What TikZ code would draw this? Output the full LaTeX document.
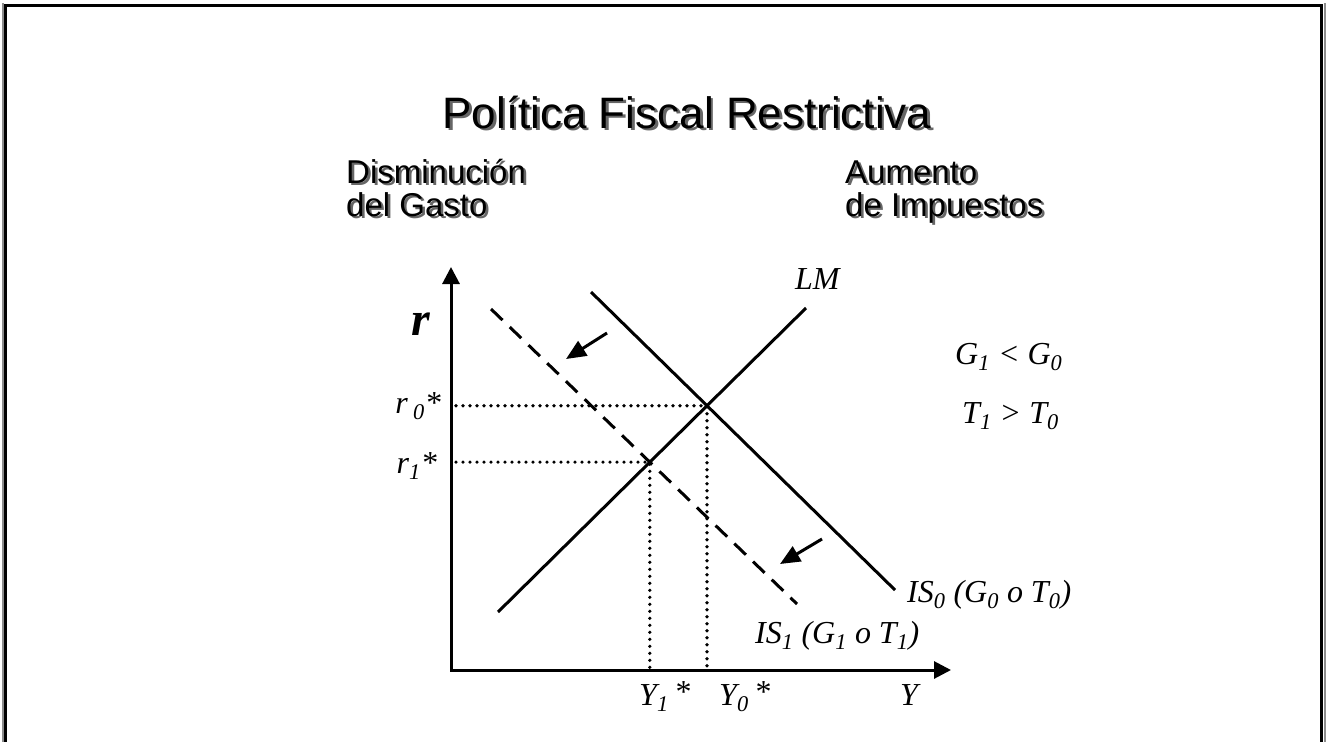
\documentclass[tikz,border=0pt]{standalone}
\usepackage{fontspec}
\setmainfont{Liberation Serif}
\setsansfont{Liberation Sans}
\usetikzlibrary{positioning,arrows.meta}

\tikzset{
  heading/.style={font=\sffamily\fontsize{33}{33}\selectfont, align=left, inner sep=0pt},
  shade/.style={text=black!60},
  lab/.style={font=\itshape\fontsize{32}{34}\selectfont, inner sep=0pt},
  curve/.style={line width=3pt},
  guide/.style={line width=3.6pt, dash pattern=on 0pt off 7pt, line cap=round},
  shiftarrow/.style={line width=3pt, -{Triangle[length=20pt,width=17pt]}},
}

\begin{document}
\begin{tikzpicture}[x=1pt,y=-1pt]
        \useasboundingbox (0,0) rectangle (1326,742);

        % frame
        \draw[black!45, line width=2pt] (2.5,742) -- (2.5,3);
        \draw[black!45, line width=2pt] (1324.5,742) -- (1324.5,3);
        \draw[line width=3pt] (5,742) -- (5,5) -- (1321.5,5) -- (1321.5,742);

        % titles with shadow
        \node[heading, shade, font=\sffamily\fontsize{44}{46}\selectfont, anchor=base] (titleshade) at (689.5,130.5) {Política Fiscal Restrictiva};
        \node[heading, font=\sffamily\fontsize{44}{46}\selectfont, anchor=base] (title) at (687,128) {Política Fiscal Restrictiva};
        \node[heading, shade, anchor=base west] (gastoshade) at (348.5,218.5) {Disminución\\del Gasto};
        \node[heading, anchor=base west] (gasto) at (346,216) {Disminución\\del Gasto};
        \node[heading, shade, anchor=base west] (impshade) at (847.5,218.5) {Aumento\\de Impuestos};
        \node[heading, anchor=base west] (imp) at (845,216) {Aumento\\de Impuestos};

        % axes
        \coordinate (O) at (451,670);
        \coordinate (ytop) at (451,267);
        \coordinate (xend) at (951,670);
        \draw[line width=3pt, {Triangle[length=17pt,width=17pt]}-{Triangle[length=17pt,width=17pt]}] (ytop) -- (O) -- (xend);

        % curves
        \coordinate (lmlo) at (498,612);
        \coordinate (lmhi) at (806,308);
        \coordinate (isAlo) at (591,292);
        \coordinate (isAhi) at (895,590);
        \coordinate (isBlo) at (491,309);
        \coordinate (isBhi) at (797,604);
        \draw[curve] (lmlo) -- (lmhi);
        \draw[curve] (isAlo) -- (isAhi);
        \draw[curve, dash pattern=on 16pt off 10pt] (isBlo) -- (isBhi);

        % equilibria
        \coordinate (E0) at (intersection of lmlo--lmhi and isAlo--isAhi);
        \coordinate (E1) at (intersection of lmlo--lmhi and isBlo--isBhi);
        \draw[guide] (E0 -| O) ++(5,0) -- (E0) -- (E0 |- O);
        \draw[guide] (E1 -| O) ++(5,0) -- (E1) -- (E1 |- O);

        % shift arrows
        \coordinate (a1) at (607,333);
        \coordinate (b1) at (566,359);
        \coordinate (a2) at (822,539);
        \coordinate (b2) at (780,564);
        \draw[shiftarrow] (a1) -- (b1);
        \draw[shiftarrow] (a2) -- (b2);

        % labels
        \node[inner sep=0pt, font=\bfseries\itshape\fontsize{48}{50}\selectfont] (rlab) at (421,324) {r};
        \node[lab, anchor=base east] (r0) at (441,413) {r\,\textsubscript{0}*};
        \node[lab, anchor=base east] (r1) at (437,473) {r\textsubscript{1}*};
        \node[lab, anchor=base west] (lm) at (795,289) {LM};
        \node[lab, anchor=base west] (gcomp) at (955,364) {G\textsubscript{1} < G\textsubscript{0}};
        \node[lab, anchor=base west] (tcomp) at (962,423) {T\textsubscript{1} > T\textsubscript{0}};
        \node[lab, anchor=base west] (is0) at (907,602) {IS\textsubscript{0} (G\textsubscript{0} o T\textsubscript{0})};
        \node[lab, anchor=base west] (is1) at (755,643) {IS\textsubscript{1} (G\textsubscript{1} o T\textsubscript{1})};
        \node[lab, anchor=base west] (y1) at (639,705) {Y\textsubscript{1}\,\raisebox{3pt}{*}};
        \node[lab, anchor=base west] (y0) at (719,705) {Y\textsubscript{0}\,\raisebox{3pt}{*}};
        \node[lab, anchor=base west] (ylab) at (900,705) {Y};
    \end{tikzpicture}
\end{document}
